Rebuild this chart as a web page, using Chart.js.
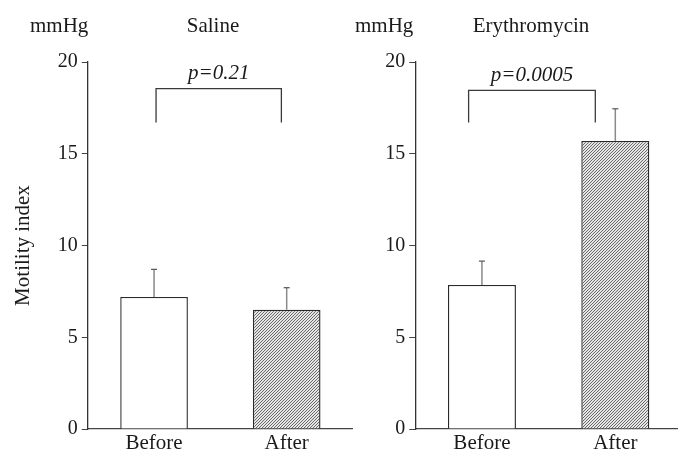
<!DOCTYPE html>
<html>
<head>
<meta charset="utf-8">
<script src="https://cdn.jsdelivr.net/npm/chart.js@4.4.1/dist/chart.umd.min.js"></script>
<style>
  html, body { margin: 0; padding: 0; background: #fff; overflow: hidden; }
  body { width: 678px; height: 454px; position: relative; font-family: "Liberation Serif", "Times New Roman", serif; color: #1a1a1a; }
  .box { position: absolute; top: 0; height: 454px; }
  #leftBox { left: 0; width: 353px; }
  #rightBox { left: 353px; width: 329px; }
  .lbl { position: absolute; font-size: 21px; line-height: 24px; white-space: nowrap; }
  .center { transform: translateX(-50%); }
</style>
</head>
<body>
<div class="box" id="leftBox"><canvas id="saline"></canvas></div>
<div class="box" id="rightBox"><canvas id="erythro"></canvas></div>
<div class="lbl" style="left:30px;top:13px;">mmHg</div>
<div class="lbl center" style="left:213px;top:13px;">Saline</div>
<div class="lbl" style="left:355px;top:13px;">mmHg</div>
<div class="lbl center" style="left:531px;top:13px;">Erythromycin</div>
<script>
// values
const categories = ['Before', 'After'];
const salineMeans = [7.2, 6.5];
const salineErrors = [1.5, 1.2];
const erythroMeans = [7.85, 15.7];
const erythroErrors = [1.3, 1.75];
const yTicks = [0, 5, 10, 15, 20];
const pValues = ['p=0.21', 'p=0.0005'];

const serif = '"Liberation Serif", "Times New Roman", serif';

// fine diagonal hatch for the "After" bars
const makeHatch = () => {
    const c = document.createElement('canvas');
    c.width = 3; c.height = 3;
    const g = c.getContext('2d');
    g.fillStyle = '#e6e6e6';
    g.fillRect(0, 0, 3, 3);
    g.strokeStyle = '#5a5a5a';
    g.lineWidth = 0.9;
    g.beginPath();
    g.moveTo(-1, 4); g.lineTo(4, -1);
    g.moveTo(-1, 1); g.lineTo(1, -1);
    g.moveTo(2, 4); g.lineTo(4, 2);
    g.stroke();
    return g.createPattern(c, 'repeat');
};
const hatch = makeHatch();

// upward error bars only
const errorBars = {
    id: 'errorBars',
    afterDatasetsDraw(chart, args, opts) {
        const ctx = chart.ctx;
        const y = chart.scales.y;
        const meta = chart.getDatasetMeta(0);
        const means = chart.data.datasets[0].data;
        ctx.save();
        meta.data.forEach((bar, i) => {
            const top = y.getPixelForValue(means[i] + opts.errors[i]);
            ctx.strokeStyle = '#8a8a8a';
            ctx.lineWidth = 1.5;
            ctx.beginPath();
            ctx.moveTo(bar.x, bar.y);
            ctx.lineTo(bar.x, top);
            ctx.stroke();
            ctx.strokeStyle = '#555';
            ctx.lineWidth = 1.2;
            ctx.beginPath();
            ctx.moveTo(bar.x - 3, top);
            ctx.lineTo(bar.x + 3, top);
            ctx.stroke();
        });
        ctx.restore();
    }
};

// significance bracket with p value
const bracket = {
    id: 'bracket',
    afterDatasetsDraw(chart, args, opts) {
        const ctx = chart.ctx;
        const x = chart.scales.x, y = chart.scales.y;
        const x0 = x.getPixelForValue(0), x1 = x.getPixelForValue(1);
        const xa = x0 + opts.from * (x1 - x0);
        const xb = x0 + opts.to * (x1 - x0);
        const yt = y.getPixelForValue(opts.level);
        const yl = y.getPixelForValue(opts.leg);
        ctx.save();
        ctx.strokeStyle = '#3a3a3a';
        ctx.lineWidth = 1.3;
        ctx.beginPath();
        ctx.moveTo(xa, yl);
        ctx.lineTo(xa, yt);
        ctx.lineTo(xb, yt);
        ctx.lineTo(xb, yl);
        ctx.stroke();
        ctx.fillStyle = '#1a1a1a';
        ctx.font = 'italic 21px ' + serif;
        ctx.textAlign = 'center';
        ctx.textBaseline = 'middle';
        ctx.fillText(opts.text, (xa + xb) / 2, yt - 15);
        ctx.restore();
    }
};

const makeChart = (id, means, errors, yWidth, showTitle, br) => {
    return new Chart(document.getElementById(id), {
        type: 'bar',
        data: {
            labels: categories,
            datasets: [{
                data: means,
                backgroundColor: ['#ffffff', hatch],
                borderColor: '#2a2a2a',
                borderWidth: 1.4,
                borderSkipped: 'bottom',
                barPercentage: 0.51,
                categoryPercentage: 1
            }]
        },
        options: {
            responsive: true,
            maintainAspectRatio: false,
            animation: false,
            layout: { padding: { top: 62, right: 0, bottom: 0, left: 0 } },
            plugins: {
                legend: { display: false },
                tooltip: { enabled: false },
                errorBars: { errors: errors },
                bracket: br
            },
            scales: {
                x: {
                    afterFit: (s) => { s.height = 25; },
                    grid: { display: true, drawOnChartArea: false, drawTicks: false },
                    border: { display: true, color: '#444', width: 1.3 },
                    ticks: { color: '#1a1a1a', padding: 2, font: { family: serif, size: 21 } }
                },
                y: {
                    min: 0,
                    max: 20,
                    afterFit: (s) => { s.width = yWidth; },
                    afterBuildTicks: (s) => { s.ticks = yTicks.map(v => ({ value: v })); },
                    grid: { drawOnChartArea: false, drawTicks: true, tickLength: 6, color: '#444' },
                    border: { display: true, color: '#333', width: 1.3 },
                    ticks: { color: '#1a1a1a', padding: 4, font: { family: serif, size: 20 } },
                    title: {
                        display: showTitle,
                        text: 'Motility index',
                        color: '#1a1a1a',
                        padding: { top: 11, bottom: 0 },
                        font: { family: serif, size: 21 }
                    }
                }
            }
        },
        plugins: [errorBars, bracket]
    });
};

makeChart('saline', salineMeans, salineErrors, 87.75, true,
    { from: 0.015, to: 0.96, level: 18.55, leg: 16.7, text: pValues[0] });
makeChart('erythro', erythroMeans, erythroErrors, 62.25, false,
    { from: -0.1, to: 0.85, level: 18.45, leg: 16.7, text: pValues[1] });
</script>
</body>
</html>
